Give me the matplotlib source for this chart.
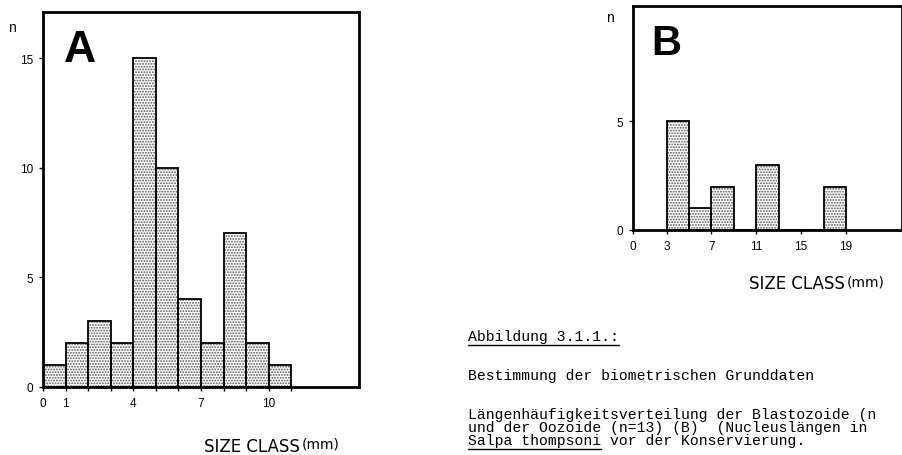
import matplotlib
matplotlib.use("Agg")
import matplotlib.pyplot as plt
from matplotlib.lines import Line2D

# ---- data ----
a_bin_starts = [0, 1, 2, 3, 4, 5, 6, 7, 8, 9, 10]
a_counts = [1, 2, 3, 2, 15, 10, 4, 2, 7, 2, 1]
a_xticks = [0, 1, 4, 7, 10]
a_yticks = [0, 5, 10, 15]

b_bin_starts = [3, 5, 7, 9, 11, 13, 15, 17]
b_counts = [5, 1, 2, 0, 3, 0, 0, 2]
b_xticks = [0, 3, 7, 11, 15, 19]
b_yticks = [0, 5]

caption_title = "Abbildung 3.1.1.:"
caption_sub = "Bestimmung der biometrischen Grunddaten"
caption_block = [
    "Längenhäufigkeitsverteilung der Blastozoide (n",
    "und der Oozoide (n=13) (B)  (Nucleuslängen in",
    "Salpa thompsoni vor der Konservierung.",
]

W, H = 903, 456
plt.rcParams['hatch.linewidth'] = 0.9
plt.rcParams['font.family'] = ['Liberation Sans', 'DejaVu Sans']

fig = plt.figure(figsize=(W / 100, H / 100), dpi=100)
fig.patch.set_facecolor('white')


def fx(px):
    return px / W


def fy(py):
    return 1 - py / H


def style_axes(ax, xticks, yticks, minor=None):
    for s in ax.spines.values():
        s.set_linewidth(2.0)
        s.set_color('black')
    ax.set_xticks(xticks)
    ax.set_yticks(yticks)
    if minor is not None:
        ax.set_xticks(minor, minor=True)
    ax.tick_params(axis='both', which='major', direction='out', length=3,
                   width=1, labelsize=8.5, pad=4, colors='black')
    ax.tick_params(axis='x', which='minor', direction='out', length=3, width=1)


def draw_bars(ax, starts, counts, width):
    ax.bar(starts, counts, width=width, align='edge', facecolor='white',
           edgecolor='#555555', linewidth=0, hatch='......', zorder=2)
    ax.bar(starts, counts, width=width, align='edge', fill=False,
           edgecolor='black', linewidth=1.3, zorder=3)


# ---- panel A ----
axA = fig.add_axes([fx(43), fy(388), fx(359 - 43), (388 - 13) / H])
draw_bars(axA, a_bin_starts, a_counts, 1)
axA.set_xlim(0, 14)
axA.set_ylim(0, 17.1)
style_axes(axA, a_xticks, a_yticks, minor=list(range(0, 12)))

# ---- panel B ----
axB = fig.add_axes([fx(633), fy(231), fx(902 - 633), (231 - 7) / H])
draw_bars(axB, b_bin_starts, b_counts, 2)
axB.set_xlim(0, 24)
axB.set_ylim(0, 10.3)
style_axes(axB, b_xticks, b_yticks)

# ---- labels ----
fig.text(fx(8), fy(32), "n", fontsize=10, ha='left', va='baseline')
fig.text(fx(606), fy(22), "n", fontsize=10, ha='left', va='baseline')

fig.text(fx(64), fy(62), "A", fontsize=32, fontweight='bold',
         family=['Liberation Sans'], ha='left', va='baseline')
fig.text(fx(651), fy(55), "B", fontsize=30, fontweight='bold',
         family=['Liberation Sans'], ha='left', va='baseline')

for x0, yb in [(204, 452), (749, 289)]:
    t = fig.text(fx(x0), fy(yb), "SIZE CLASS", fontsize=12,
                 family=['DejaVu Sans'], ha='left', va='baseline')
    fig.canvas.draw()
    bb = t.get_window_extent()
    fig.text(bb.x1 / W + fx(2), fy(yb) + 3 / H, "(mm)", fontsize=10,
             family=['DejaVu Sans'], ha='left', va='baseline')

# ---- caption ----
mono = ['Liberation Mono', 'DejaVu Sans Mono']
cap_x = 468
cap_size = 10.6
renderer = fig.canvas.get_renderer()

# find linespacing giving a 13 px line pitch
def pitch(ls):
    a = fig.text(0, 0, "Ag", fontsize=cap_size, family=mono, linespacing=ls)
    b = fig.text(0, 0, "Ag\nAg", fontsize=cap_size, family=mono, linespacing=ls)
    h = b.get_window_extent(renderer).height - a.get_window_extent(renderer).height
    a.remove()
    b.remove()
    return h

p1, p2 = pitch(1.0), pitch(2.0)
target = 13.0
ls = 1.0 + (target - p1) / (p2 - p1)

y_title, y_sub, y_last = 341, 380, 445   # baselines (px from top)

tt = fig.text(fx(cap_x), fy(y_title), caption_title, fontsize=cap_size,
              family=mono, ha='left', va='baseline')
fig.text(fx(cap_x), fy(y_sub), caption_sub, fontsize=cap_size,
         family=mono, ha='left', va='baseline')
# multi-line block: baseline alignment refers to its last line
blk = fig.text(fx(cap_x), fy(y_last), "\n".join(caption_block),
               fontsize=cap_size, family=mono, ha='left', va='baseline',
               linespacing=ls)
fig.canvas.draw()

# underline of the title and of "Salpa thompsoni"
bb = tt.get_window_extent(renderer)
uy = fy(y_title + 5)
fig.add_artist(Line2D([bb.x0 / W, bb.x1 / W], [uy, uy], color='black', lw=1.0))

bb = blk.get_window_extent(renderer)
char_w = bb.width / max(len(s) for s in caption_block)
x1 = bb.x0 + char_w * len("Salpa thompsoni")
uy = fy(y_last + 5)
fig.add_artist(Line2D([bb.x0 / W, x1 / W], [uy, uy], color='black', lw=1.0))

fig.savefig("out.png", dpi=100, facecolor='white')
